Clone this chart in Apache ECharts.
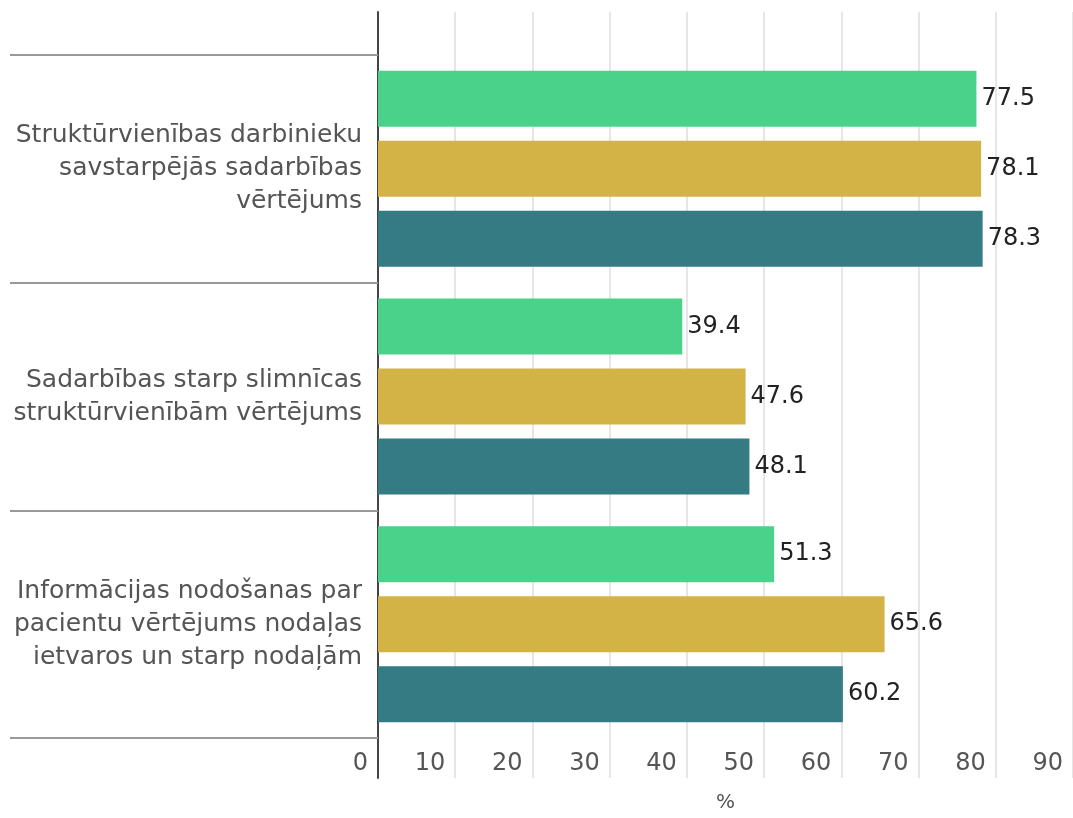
<!DOCTYPE html>
<html>
<head>
<meta charset="utf-8">
<script src="https://cdn.jsdelivr.net/npm/echarts@6/dist/echarts.min.js"></script>
<style>
html,body{margin:0;padding:0;background:#fff;}
#chart{width:1073px;height:818px;}
</style>
</head>
<body>
<div id="chart"></div>
<script>
const categories = [
  "Struktūrvienības darbinieku\nsavstarpējās sadarbības\nvērtējums",
  "Sadarbības starp slimnīcas\nstruktūrvienībām vērtējums",
  "Informācijas nodošanas par\npacientu vērtējums nodaļas\nietvaros un starp nodaļām"
];
const seriesNames = ["1", "2", "3"];
const series1 = [77.5, 39.4, 51.3];
const series2 = [78.1, 47.6, 65.6];
const series3 = [78.3, 48.1, 60.2];
const xTicks = { min: 0, max: 90, interval: 10 };
const axisTitle = "%";

const colors = ["#4AD28B", "#D4B346", "#357B83"];
const FONT = "DejaVu Sans";
const chart = echarts.init(document.getElementById('chart'), null, { renderer: 'canvas' });

const L = 378, W = 697.5;
const option = {
  animation: false,
  grid: [
    { left: L, top: 12, width: W, height: 768 },
    { left: L, top: 55, width: W, height: 683 }
  ],
  xAxis: [
    {
      gridIndex: 0, type: 'value', min: xTicks.min, max: xTicks.max, interval: xTicks.interval,
      axisLine: { show: false }, axisTick: { show: false },
      splitLine: { show: true, lineStyle: { color: '#e6e6e6', width: 2 } },
      axisLabel: {
        color: '#555', fontFamily: FONT, fontSize: 24, align: 'right',
        padding: [0, 10, 0, 0], margin: -26
      },
      name: axisTitle, nameLocation: 'middle', nameGap: 15,
      nameTextStyle: { color: '#555', fontFamily: FONT, fontSize: 20 }
    },
    {
      gridIndex: 1, type: 'value', min: xTicks.min, max: xTicks.max, interval: xTicks.interval,
      show: false
    }
  ],
  yAxis: [
    {
      gridIndex: 0, type: 'value', min: 0, max: 1,
      axisLine: { show: true, lineStyle: { color: '#444', width: 2 } },
      axisTick: { show: false }, axisLabel: { show: false }, splitLine: { show: false }
    },
    {
      gridIndex: 1, type: 'category', inverse: true, data: categories,
      axisLine: { show: false },
      axisTick: { show: true, length: 368, interval: 0, lineStyle: { color: '#999', width: 2 } },
      splitLine: { show: false },
      axisLabel: {
        color: '#555', fontFamily: FONT, fontSize: 25, lineHeight: 33,
        margin: 16, align: 'right', interval: 0
      }
    }
  ],
  series: [series1, series2, series3].map((d, i) => ({
    name: seriesNames[i], type: 'bar', xAxisIndex: 1, yAxisIndex: 1,
    data: d, barWidth: 56, barGap: '25%',
    itemStyle: { color: colors[i] },
    label: { show: true, position: 'right', distance: 5, color: '#222', fontFamily: FONT, fontSize: 24 }
  }))
};
chart.setOption(option);
</script>
</body>
</html>
